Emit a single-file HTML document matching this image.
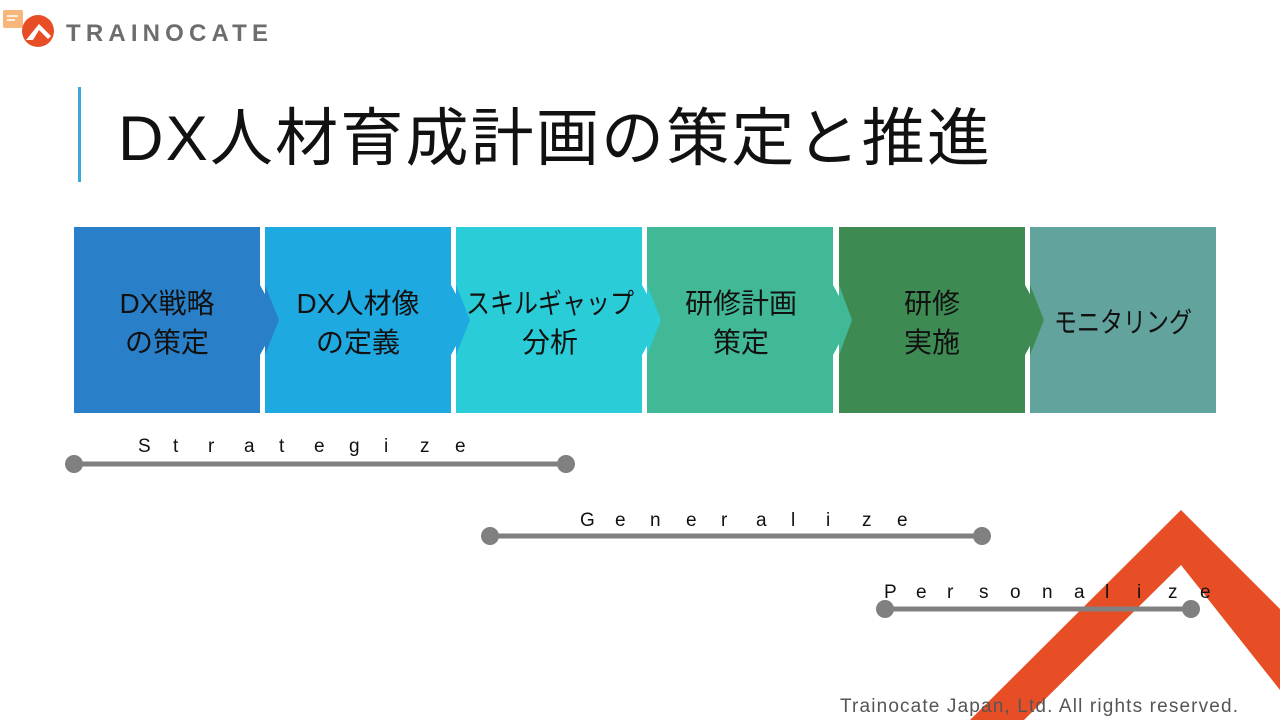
<!DOCTYPE html>
<html><head><meta charset="utf-8"><style>
html,body{margin:0;padding:0;background:#fff;}
body{width:1280px;height:720px;overflow:hidden;position:relative;font-family:"Liberation Sans","Noto Sans CJK JP",sans-serif;}
</style></head><body>
<svg width="1280" height="720" viewBox="0 0 1280 720" xmlns="http://www.w3.org/2000/svg" style="position:absolute;left:0;top:0">
<polygon points="1181,510 1280,609 1280,690 1181,565 1024,720 970,720" fill="#E84E26"/>
<rect x="3" y="10" width="20" height="18" rx="2" fill="#F7B77A"/>
<line x1="7" y1="16" x2="18" y2="16" stroke="#fff" stroke-width="1.5"/>
<line x1="7" y1="20" x2="15" y2="20" stroke="#fff" stroke-width="1.5"/>
<circle cx="38" cy="31" r="16" fill="#E84E26"/>
<polygon points="26,40 39,24 51,36 48,39 39,30 33,40" fill="#fff"/>
<text x="66" y="41" font-family="Liberation Sans, sans-serif" font-weight="bold" font-size="24" fill="#6d6d6d" textLength="202" lengthAdjust="spacing">TRAINOCATE</text>
<rect x="78" y="87" width="3" height="95" fill="#3AA8D8"/>
<text x="118" y="160" font-family="Liberation Sans, Noto Sans CJK JP, sans-serif" font-size="63" fill="#111" textLength="872" lengthAdjust="spacing">DX人材育成計画の策定と推進</text>
<g>
<rect x="74" y="227" width="186" height="186" fill="#2A80C8"/>
<polygon points="260,285 279,320 260,355" fill="#2A80C8"/>
<rect x="265" y="227" width="186" height="186" fill="#1EA9E1"/>
<polygon points="265,285 279,320 265,355" fill="#2A80C8"/>
<polygon points="451,285 470,320 451,355" fill="#1EA9E1"/>
<rect x="456" y="227" width="186" height="186" fill="#2ACCD7"/>
<polygon points="456,285 470,320 456,355" fill="#1EA9E1"/>
<polygon points="642,285 661,320 642,355" fill="#2ACCD7"/>
<rect x="647" y="227" width="186" height="186" fill="#41B997"/>
<polygon points="647,285 661,320 647,355" fill="#2ACCD7"/>
<polygon points="833,285 852,320 833,355" fill="#41B997"/>
<rect x="839" y="227" width="186" height="186" fill="#3E8A53"/>
<polygon points="839,285 852,320 839,355" fill="#41B997"/>
<polygon points="1025,285 1044,320 1025,355" fill="#3E8A53"/>
<rect x="1030" y="227" width="186" height="186" fill="#63A39D"/>
<polygon points="1030,285 1044,320 1030,355" fill="#3E8A53"/>
</g>
<g font-family="Liberation Sans, Noto Sans CJK JP, sans-serif" font-size="28" fill="#111" text-anchor="middle">
<text x="167" y="313">DX戦略</text><text x="167" y="352">の策定</text>
<text x="358" y="313">DX人材像</text><text x="358" y="352">の定義</text>
<text x="550" y="313" textLength="168" lengthAdjust="spacingAndGlyphs">スキルギャップ</text><text x="550" y="352">分析</text>
<text x="741" y="313">研修計画</text><text x="741" y="352">策定</text>
<text x="932" y="313">研修</text><text x="932" y="352">実施</text>
<text x="1123" y="332" textLength="138" lengthAdjust="spacingAndGlyphs">モニタリング</text>
</g>
<g stroke="#808080" stroke-width="5"><line x1="74" y1="464" x2="566" y2="464"/><line x1="490" y1="536" x2="982" y2="536"/><line x1="885" y1="609" x2="1191" y2="609"/></g>
<g fill="#808080"><circle cx="74" cy="464" r="9"/><circle cx="566" cy="464" r="9"/><circle cx="490" cy="536" r="9"/><circle cx="982" cy="536" r="9"/><circle cx="885" cy="609" r="9"/><circle cx="1191" cy="609" r="9"/></g>
<g font-family="Liberation Sans, sans-serif" font-size="19" fill="#111">
<text y="452" x="138 173 208 244 279 314 349 384 420 455">Strategize</text>
<text y="526" x="580 615 650 686 721 756 791 826 862 897">Generalize</text>
<text y="598" x="884 916 947 979 1010 1042 1074 1105 1137 1168 1200">Personalize</text>
</g>
<text x="840" y="712" font-family="Liberation Sans, sans-serif" font-size="19" fill="#555" textLength="398" lengthAdjust="spacing">Trainocate Japan, Ltd. All rights reserved.</text>
</svg>
</body></html>
